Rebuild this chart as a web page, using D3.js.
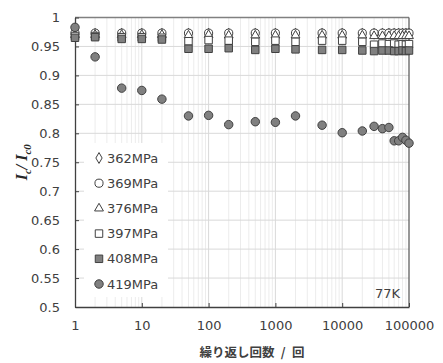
<!DOCTYPE html>
<html>
<head>
<meta charset="utf-8">
<script src="https://cdn.jsdelivr.net/npm/d3@7/dist/d3.min.js"></script>
<style>
  body { margin: 0; background: #fff; }
  text { font-family: "DejaVu Sans", Verdana, sans-serif; }
</style>
</head>
<body>
<svg id="chart" width="443" height="363"></svg>
<script>
'use strict';

// cycles (N)
const cycles = [1, 2, 5, 10, 20, 50, 100, 200, 500, 1000, 2000, 5000, 10000,
	20000, 30000, 40000, 50000, 60000, 70000, 80000, 90000, 100000];

const s362 = [0.971, 0.972, 0.972, 0.972, 0.972, 0.972, 0.972, 0.972, 0.972, 0.972, 0.972,
	0.972, 0.972, 0.972, 0.972, 0.972, 0.972, 0.972, 0.972, 0.972, 0.972, 0.972];
const s369 = [0.973, 0.973, 0.973, 0.973, 0.973, 0.973, 0.973, 0.973, 0.973, 0.973, 0.973,
	0.973, 0.973, 0.973, 0.973, 0.973, 0.973, 0.973, 0.973, 0.973, 0.973, 0.973];
const s376 = [0.970, 0.970, 0.970, 0.970, 0.970, 0.969, 0.970, 0.969, 0.969, 0.969, 0.969,
	0.969, 0.969, 0.969, 0.968, 0.968, 0.968, 0.968, 0.968, 0.968, 0.968, 0.968];
const s397 = [0.968, 0.968, 0.966, 0.966, 0.965, 0.959, 0.961, 0.960, 0.958, 0.960, 0.958,
	0.960, 0.960, 0.958, 0.953, 0.955, 0.954, 0.955, 0.953, 0.954, 0.953, 0.954];
const s408 = [0.965, 0.966, 0.963, 0.963, 0.962, 0.946, 0.946, 0.947, 0.944, 0.946, 0.945,
	0.944, 0.944, 0.943, 0.942, 0.943, 0.943, 0.942, 0.942, 0.943, 0.942, 0.943];
const s419 = [0.983, 0.932, 0.878, 0.874, 0.859, 0.830, 0.831, 0.815, 0.820, 0.819, 0.830,
	0.814, 0.801, 0.804, 0.812, 0.808, 0.810, 0.787, 0.787, 0.793, 0.788, 0.783];

const seriesNames = ['362MPa', '369MPa', '376MPa', '397MPa', '408MPa', '419MPa'];
const seriesValues = [s362, s369, s376, s397, s408, s419];

const xTicks = [1, 10, 100, 1000, 10000, 100000];
const yTicks = [0.5, 0.55, 0.6, 0.65, 0.7, 0.75, 0.8, 0.85, 0.9, 0.95, 1];

// marker styles per series
const markers = [
	{ type: d3.symbolDiamond, size: 34, fill: '#fff' },
	{ type: d3.symbolCircle, size: 52, fill: '#fff' },
	{ type: d3.symbolTriangle, size: 34, fill: '#fff' },
	{ type: d3.symbolSquare, size: 56, fill: '#fff' },
	{ type: d3.symbolSquare, size: 56, fill: '#808080' },
	{ type: d3.symbolCircle, size: 56, fill: '#808080' },
];

const W = 443, H = 363;
const margin = { top: 17.5, right: 34, bottom: 56, left: 75 };

const svg = d3.select('#chart');

const x = d3.scaleLog().domain([1, 100000]).range([margin.left, W - margin.right]);
const y = d3.scaleLinear().domain([0.5, 1]).range([H - margin.bottom, margin.top]);

// - gridlines
let minor = [];
for (let d = 1; d < 100000; d *= 10)
	for (let k = 2; k <= 9; k++) minor.push(d * k);

svg.append('g')
	.selectAll('line')
	.data(minor)
	.join('line')
		.attr('x1', d => x(d)).attr('x2', d => x(d))
		.attr('y1', y(0.5)).attr('y2', y(1))
		.attr('stroke', '#ececec');

svg.append('g')
	.selectAll('line')
	.data(xTicks.slice(1, -1))
	.join('line')
		.attr('x1', d => x(d)).attr('x2', d => x(d))
		.attr('y1', y(0.5)).attr('y2', y(1))
		.attr('stroke', '#d9d9d9');

svg.append('g')
	.selectAll('line')
	.data(yTicks.slice(1, -1))
	.join('line')
		.attr('x1', x(1)).attr('x2', x(100000))
		.attr('y1', d => y(d)).attr('y2', d => y(d))
		.attr('stroke', '#d9d9d9');

// - legend background (hides gridlines)
svg.append('rect')
	.attr('x', 84).attr('y', 143)
	.attr('width', 84).attr('height', 154)
	.attr('fill', '#fff');

// - frame
svg.append('line')
	.attr('x1', x(1)).attr('x2', x(100000)).attr('y1', y(1)).attr('y2', y(1))
	.attr('stroke', '#808080').attr('stroke-width', 1.3);
svg.append('line')
	.attr('x1', x(100000)).attr('x2', x(100000)).attr('y1', y(1)).attr('y2', y(0.5))
	.attr('stroke', '#606060').attr('stroke-width', 1.3);

// - axes
const xAxis = d3.axisBottom(x)
	.tickValues(xTicks)
	.tickFormat(d3.format('d'))
	.tickSizeInner(-4).tickSizeOuter(0).tickPadding(14);

const gx = svg.append('g')
	.attr('transform', `translate(0,${y(0.5)})`)
	.call(xAxis);

const yAxis = d3.axisLeft(y)
	.tickValues(yTicks)
	.tickFormat(d => d3.format('')(+d.toFixed(2)))
	.tickSizeInner(-4).tickSizeOuter(0).tickPadding(15);

const gy = svg.append('g')
	.attr('transform', `translate(${x(1)},0)`)
	.call(yAxis);

for (let g of [gx, gy])
{
	g.select('.domain').attr('stroke', '#404040').attr('stroke-width', 1.3);
	g.selectAll('.tick line').attr('stroke', '#404040');
	g.selectAll('.tick text')
		.attr('fill', '#404040')
		.style('font-family', '"DejaVu Sans", sans-serif')
		.style('font-size', '13px');
}

// - data points
seriesValues.forEach((vals, si) =>
{
	let m = markers[si];
	let sym = d3.symbol().type(m.type).size(m.size);
	svg.append('g')
		.selectAll('path')
		.data(vals)
		.join('path')
			.attr('d', sym)
			.attr('transform', (v, i) => `translate(${x(cycles[i])},${y(v)})`)
			.attr('fill', m.fill)
			.attr('stroke', '#404040')
			.attr('stroke-width', 1);
});

// - legend
const leg = svg.append('g');
seriesNames.forEach((name, i) =>
{
	let m = markers[i];
	let cy = 158 + i * 25.2;
	leg.append('path')
		.attr('d', d3.symbol().type(m.type).size(m.size)())
		.attr('transform', `translate(99,${cy})`)
		.attr('fill', m.fill)
		.attr('stroke', '#404040');
	leg.append('text')
		.attr('x', 107).attr('y', cy)
		.attr('dy', '0.35em')
		.attr('fill', '#404040')
		.style('font-size', '13px')
		.text(name);
});

// - temperature label
svg.append('text')
	.attr('x', 400).attr('y', 293)
	.attr('dy', '0.35em')
	.attr('text-anchor', 'end')
	.attr('fill', '#404040')
	.style('font-size', '13px')
	.text('77K');

// - axis titles
svg.append('text')
	.attr('x', 252).attr('y', 357)
	.attr('text-anchor', 'middle')
	.attr('fill', '#404040')
	.style('font-family', '"Noto Sans CJK JP", sans-serif')
	.style('font-size', '12.5px')
	.style('font-weight', 'bold')
	.text('繰り返し回数\u2002/\u2002回');

const yl = svg.append('text')
	.attr('transform', `translate(27,${(y(0.5) + y(1)) / 2}) rotate(-90)`)
	.attr('text-anchor', 'middle')
	.attr('fill', '#262626')
	.style('font-family', '"Liberation Serif", "Times New Roman", serif')
	.style('font-size', '16px')
	.style('font-weight', 'bold')
	.style('font-style', 'italic');
yl.append('tspan').text('I');
yl.append('tspan').attr('dy', 4).style('font-size', '11px').text('c');
yl.append('tspan').attr('dy', -4).text('/ I');
yl.append('tspan').attr('dy', 4).style('font-size', '11px').text('c0');
</script>
</body>
</html>
